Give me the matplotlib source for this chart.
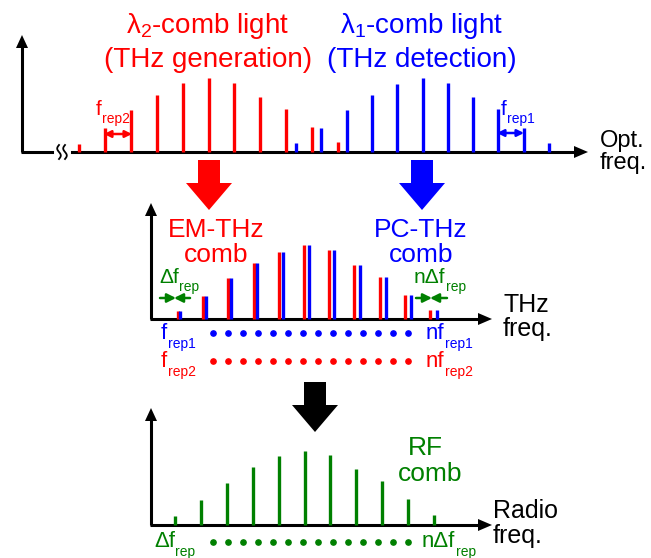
import matplotlib
matplotlib.use('Agg')
import matplotlib.pyplot as plt
import numpy as np

plt.rcParams['font.family'] = ['Liberation Sans', 'DejaVu Sans']
plt.rcParams['mathtext.fontset'] = 'custom'
plt.rcParams['mathtext.rm'] = 'Liberation Sans'
plt.rcParams['mathtext.it'] = 'Liberation Sans:italic'
plt.rcParams['mathtext.bf'] = 'Liberation Sans:bold'

# comb line amplitudes (pixel heights)
opt_red = [8, 24, 42, 57, 69, 74, 69, 55, 43, 25, 10]
opt_blue = [9, 24, 42, 57, 68, 74, 69, 55, 43, 24, 9]
thz_red = [8, 23, 41, 56, 67, 74, 69, 54, 42, 24, 9]
thz_blue = [8, 23, 41, 56, 67, 74, 69, 54, 42, 24, 9]
rf_green = [9, 25, 42, 58, 69, 74, 70, 56, 44, 26, 10]
n_dots = 14

RED = '#ff0000'
BLUE = '#0000ff'
GREEN = '#008000'
LW = 2.4

fig = plt.figure(figsize=(6.51, 5.58), dpi=100)
ax = fig.add_axes([0, 0, 1, 1])
ax.set_xlim(0, 651)
ax.set_ylim(558, 0)
ax.axis('off')


def axis_arrows(x0, y0, ytip, xtip):
    ax.plot([x0, x0], [y0, ytip + 8], color='k', lw=2.2, solid_capstyle='butt')
    ax.plot([x0 - 1, xtip - 8], [y0, y0], color='k', lw=2.2, solid_capstyle='butt')
    ax.fill([x0 - 6, x0 + 6, x0], [ytip + 13, ytip + 13, ytip], color='k', lw=0)
    ax.fill([xtip - 14, xtip - 14, xtip], [y0 - 6, y0 + 6, y0], color='k', lw=0)


def comb(x0, step, heights, base, color):
    xs = x0 + step * np.arange(len(heights))
    ax.vlines(xs, base, base - np.array(heights), color=color, lw=LW)


def big_arrow(xc, ytop, color):
    pts = [(xc - 11, ytop), (xc + 11, ytop), (xc + 11, ytop + 23), (xc + 23, ytop + 23),
           (xc, ytop + 50), (xc - 23, ytop + 23), (xc - 11, ytop + 23)]
    ax.fill([p[0] for p in pts], [p[1] for p in pts], color=color, lw=0)


def label(x, y, s, color, size, ha='left'):
    return ax.text(x, y, s, color=color, fontsize=size, ha=ha, va='baseline')


def sub_label(x, y, main, sub, color, size=15, subsize=10):
    t = label(x, y, main, color, size)
    ax.annotate(sub, xy=(1, 0), xycoords=t, xytext=(0.3, -3.2),
                textcoords='offset points', color=color, fontsize=subsize,
                ha='left', va='baseline')


# ---- top panel: optical combs
axis_arrows(22, 152, 35, 588)
ax.plot([57, 67], [152, 152], color='white', lw=5)
t = np.linspace(-1, 1, 30)
for xc in (59, 65):
    ax.plot(xc + 1.8 * np.sin(np.pi * t), 152 + 7 * t, color='k', lw=1.3)
comb(79, 25.9, opt_red, 152, RED)
comb(296, 25.3, opt_blue, 152, BLUE)

label(208, 33, r'$\mathregular{λ_2}$-comb light', RED, 20, 'center')
label(208, 67, '(THz generation)', RED, 20, 'center')
label(422, 33, r'$\mathregular{λ_1}$-comb light', BLUE, 20, 'center')
label(422, 67, '(THz detection)', BLUE, 20, 'center')

ax.annotate('', xy=(104, 134), xytext=(132, 134),
            arrowprops=dict(arrowstyle='<|-|>', color=RED, lw=1.8,
                            mutation_scale=10, shrinkA=0, shrinkB=0))
sub_label(96, 115, 'f', 'rep2', RED)
ax.annotate('', xy=(497, 133), xytext=(524, 133),
            arrowprops=dict(arrowstyle='<|-|>', color=BLUE, lw=1.8,
                            mutation_scale=10, shrinkA=0, shrinkB=0))
sub_label(501, 115, 'f', 'rep1', BLUE)

label(600, 147, 'Opt.', 'k', 17)
label(600, 169, 'freq.', 'k', 17)

big_arrow(209, 160, RED)
big_arrow(422, 160, BLUE)

# ---- middle panel: THz combs
axis_arrows(151, 319, 203, 492)
comb(178, 25.2, thz_red, 319, RED)
comb(180, 25.7, thz_blue, 319, BLUE)

label(216, 237, 'EM-THz', RED, 19, 'center')
label(216, 262, 'comb', RED, 19, 'center')
label(421, 237, 'PC-THz', BLUE, 19, 'center')
label(421, 262, 'comb', BLUE, 19, 'center')

sub_label(159, 283, 'Δf', 'rep', GREEN)
sub_label(414, 283, 'nΔf', 'rep', GREEN)
for xa, xb in [(160, 176), (190, 174), (416, 432), (447, 430)]:
    ax.annotate('', xy=(xb, 298), xytext=(xa, 298),
                arrowprops=dict(arrowstyle='-|>', color=GREEN, lw=1.8,
                                mutation_scale=13, shrinkA=0, shrinkB=0))

dots_x = 213 + 15 * np.arange(n_dots)
ax.plot(dots_x, np.full(n_dots, 333), 'o', color=BLUE, ms=3.8)
ax.plot(dots_x, np.full(n_dots, 361), 'o', color=RED, ms=3.8)
sub_label(161, 339, 'f', 'rep1', BLUE, 16)
sub_label(161, 367, 'f', 'rep2', RED, 16)
sub_label(426, 339, 'nf', 'rep1', BLUE, 16)
sub_label(426, 367, 'nf', 'rep2', RED, 16)

label(503, 312, 'THz', 'k', 18)
label(503, 336, 'freq.', 'k', 18)

big_arrow(315, 382, 'k')

# ---- bottom panel: RF comb
axis_arrows(151, 525, 408, 492)
comb(175, 25.9, rf_green, 525, GREEN)
label(425, 455, 'RF', GREEN, 19, 'center')
label(430, 481, 'comb', GREEN, 19, 'center')

ax.plot(dots_x, np.full(n_dots, 542), 'o', color=GREEN, ms=3.8)
sub_label(154, 547, 'Δf', 'rep', GREEN, 16)
sub_label(422, 547, 'nΔf', 'rep', GREEN, 16)

label(493, 518, 'Radio', 'k', 18)
label(493, 543, 'freq.', 'k', 18)

fig.savefig('out.png', dpi=100)
